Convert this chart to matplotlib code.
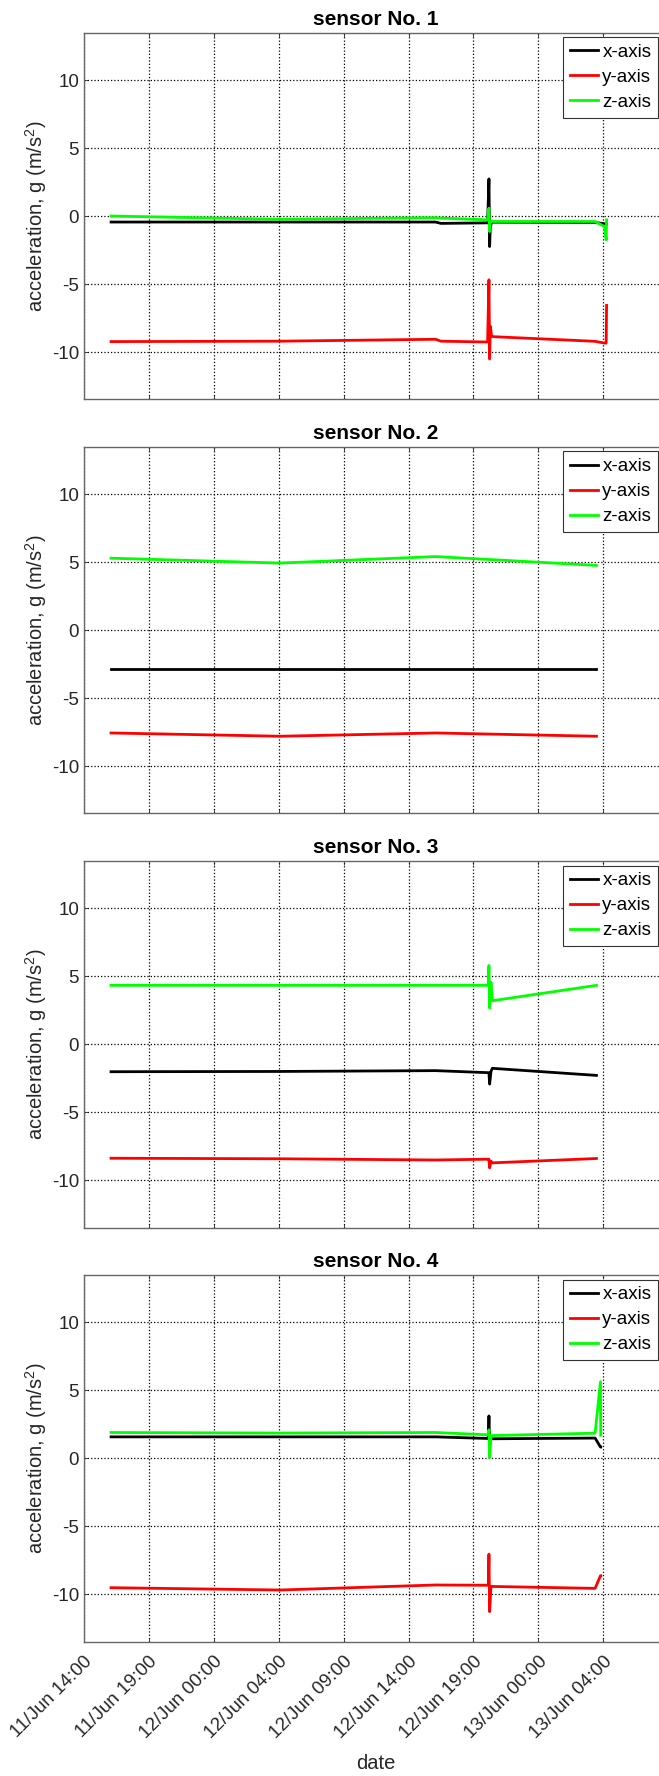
import matplotlib
matplotlib.use('Agg')
import matplotlib.pyplot as plt

# accelerometer readings of four sensors, time in hours after 11/Jun 14:00

plt.rcParams['font.family'] = ['Liberation Sans', 'DejaVu Sans']
plt.rcParams['mathtext.fontset'] = 'custom'
plt.rcParams['mathtext.rm'] = 'Liberation Sans'
plt.rcParams['mathtext.it'] = 'Liberation Sans:italic'
plt.rcParams['mathtext.default'] = 'regular'
plt.rcParams['axes.unicode_minus'] = False

tick_hours = [0, 4.8, 9.6, 14.4, 19.2, 24.0, 28.8, 33.6, 38.4]
tick_labels = ['11/Jun 14:00', '11/Jun 19:00', '12/Jun 00:00', '12/Jun 04:00',
               '12/Jun 09:00', '12/Jun 14:00', '12/Jun 19:00', '13/Jun 00:00',
               '13/Jun 04:00']

t1 = [2.0, 14.5, 26.0, 26.4, 29.85, 29.95, 30.0, 30.05, 30.15, 30.3, 37.8, 38.5, 38.62, 38.65]
x1 = [-0.44, -0.44, -0.44, -0.54, -0.50, 2.73, -2.24, -0.8, -0.45, -0.45, -0.47, -0.57, -0.57, -0.57]
y1 = [-9.23, -9.2, -9.06, -9.2, -9.26, -4.69, -10.51, -8.1, -8.85, -8.87, -9.21, -9.34, -9.34, -6.57]
z1 = [0.0, -0.24, -0.12, -0.15, -0.28, 0.58, -1.14, -0.4, -0.40, -0.40, -0.40, -0.77, -1.75, -0.28]

t2 = [2.0, 14.5, 26.0, 37.9]
x2 = [-2.88, -2.88, -2.88, -2.88]
y2 = [-7.56, -7.80, -7.56, -7.80]
z2 = [5.29, 4.93, 5.41, 4.76]

t3 = [2.0, 14.5, 26.0, 29.9, 29.95, 30.0, 30.1, 30.2, 37.9]
x3 = [-2.02, -2.0, -1.94, -2.09, -2.09, -2.93, -2.0, -1.77, -2.29]
y3 = [-8.38, -8.42, -8.51, -8.45, -8.45, -9.09, -8.6, -8.72, -8.40]
z3 = [4.33, 4.33, 4.33, 4.33, 5.79, 2.66, 4.56, 3.2, 4.33]

t4 = [2.0, 14.5, 26.0, 29.9, 29.95, 30.0, 30.1, 30.3, 37.8, 38.2, 38.22]
x4 = [1.58, 1.58, 1.58, 1.46, 3.12, 1.0, 1.44, 1.44, 1.49, 0.83, 0.83]
y4 = [-9.51, -9.68, -9.31, -9.33, -7.05, -11.27, -9.41, -9.42, -9.56, -8.63, -8.63]
z4 = [1.90, 1.86, 1.90, 1.73, 2.1, 0.07, 1.66, 1.68, 1.85, 5.63, 1.7]

sensors = [(t1, x1, y1, z1), (t2, x2, y2, z2), (t3, x3, y3, z3), (t4, x4, y4, z4)]

W, H = 659, 1776
fig = plt.figure(figsize=(W / 100, H / 100), dpi=100)

left, right = 84, 668
ax_h = 366.7
px_per_tick = 64.9

for i, (t, ax_x, ax_y, ax_z) in enumerate(sensors):
    top = 32.7 + 414.1 * i
    ax = fig.add_axes([left / W, 1 - (top + ax_h) / H, (right - left) / W, ax_h / H])
    ax.plot(t, ax_x, color='k', lw=2.0, label='x-axis')
    ax.plot(t, ax_y, color='#ff0000', lw=2.0, label='y-axis')
    ax.plot(t, ax_z, color='#00ff00', lw=2.0, label='z-axis')

    ax.set_xlim(0, (right - left) / px_per_tick * 4.8)
    ax.set_ylim(-13.48, 13.48)
    ax.set_yticks([-10, -5, 0, 5, 10])
    ax.set_xticks(tick_hours)
    ax.grid(True, color='k', linestyle=':', linewidth=0.9)
    ax.tick_params(direction='in', top=True, right=True, length=3, width=0.6,
                   labelsize=13.5, colors='#262626')
    for sp in ax.spines.values():
        sp.set_color('#666666')
        sp.set_linewidth(1.0)

    ax.set_title('sensor No. %d' % (i + 1), fontsize=15, fontweight='bold', pad=5.5)
    ax.set_ylabel('acceleration, g (m/s$^{2}$)', fontsize=14.5, color='#262626', va='center')
    ax.yaxis.set_label_coords(-0.082, 0.5)

    if i < 3:
        ax.set_xticklabels([])
    else:
        ax.set_xticklabels(tick_labels)
        ax.tick_params(axis='x', pad=8)
        plt.setp(ax.get_xticklabels(), rotation=45, ha='right', va='top',
                 rotation_mode='anchor')
        ax.set_xlabel('date', fontsize=14.5, color='#262626', va='center')
        ax.xaxis.set_label_coords(0.5, -(1763 - (top + ax_h)) / ax_h)

    leg = ax.legend(loc='upper right', bbox_to_anchor=((658 - left) / (right - left), 1 - 4.6 / ax_h),
                    borderaxespad=0, fontsize=13.5, fancybox=False, framealpha=1,
                    edgecolor='#333333', handlelength=1.5, handletextpad=0.25,
                    borderpad=0.35, labelspacing=0.42)
    leg.get_frame().set_linewidth(0.8)

fig.savefig('out.png', dpi=100)
